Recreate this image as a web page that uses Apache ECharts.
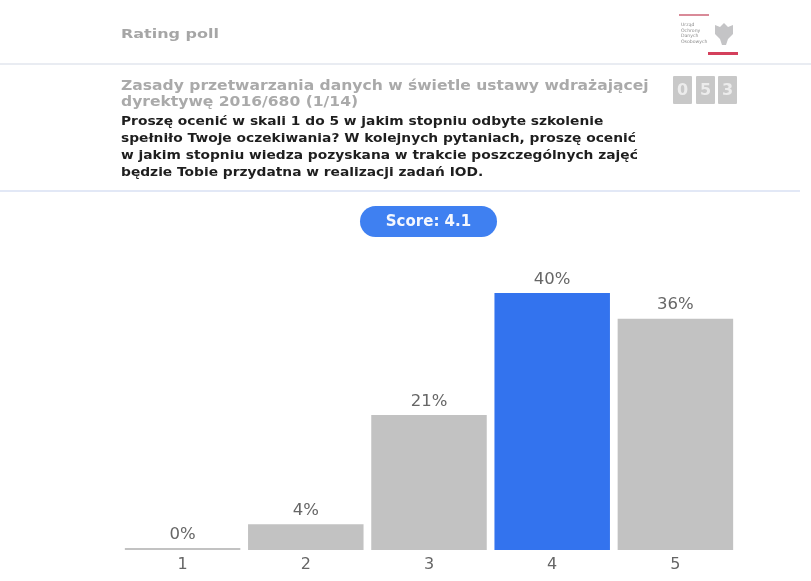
<!DOCTYPE html>
<html>
<head>
<meta charset="utf-8">
<style>html,body{margin:0;padding:0;background:#fff}#chart{width:811px;height:581px}</style>
<script src="https://cdn.jsdelivr.net/npm/echarts@6/dist/echarts.min.js"></script>
</head>
<body>
<div id="chart"></div>
<script>
// Poll results
const categories = ['1', '2', '3', '4', '5'];
const percentages = [0, 4, 21, 40, 36];
const topCategory = '4';

// Header copy
const pollLabel = 'Rating poll';
const topicLines = [
  'Zasady przetwarzania danych w świetle ustawy wdrażającej',
  'dyrektywę 2016/680 (1/14)'
];
const questionLines = [
  'Proszę ocenić w skali 1 do 5 w jakim stopniu odbyte szkolenie',
  'spełniło Twoje oczekiwania? W kolejnych pytaniach, proszę ocenić',
  'w jakim stopniu wiedza pozyskana w trakcie poszczególnych zajęć',
  'będzie Tobie przydatna w realizacji zadań IOD.'
];
const scoreLabel = 'Score: 4.1';
const counterDigits = ['0', '5', '3'];
const logoLines = ['Urząd', 'Ochrony', 'Danych', 'Osobowych'];

const FONT = '"DejaVu Sans", sans-serif';
const GREY_BAR = '#c2c2c2';
const BLUE_BAR = '#3373ee';

function label(x, y, text, size, color, weight, align, stretch) {
  return {
    type: 'text', x, y, silent: true, scaleX: stretch || 1,
    style: {
      text, fill: color, fontFamily: FONT, fontSize: size,
      fontWeight: weight || 'bold', align: align || 'left', verticalAlign: 'middle'
    }
  };
}
function box(x, y, width, height, fill, r) {
  return { type: 'rect', silent: true, shape: { x, y, width, height, r: r || 0 }, style: { fill } };
}

const header = [
  box(0, 63, 811, 2, '#e9ecf2'),
  box(0, 190, 800, 2, '#e2e8f6'),
  label(121, 34.5, pollLabel, 13, '#a6a6a6', 'bold', 'left', 1.23)
];
topicLines.forEach((t, i) => header.push(label(121, 87 + i * 16, t, 13.2, '#aaaaaa', 'bold', 'left', 1.18)));
questionLines.forEach((t, i) => header.push(label(121, 121.5 + i * 17, t, 11.6, '#1e1e1e', 'bold', 'left', 1.19)));

// Elapsed-time counter
[673, 696, 718].forEach((x, i) => {
  header.push(box(x, 76, 19, 28, '#c8c8c8', 1));
  header.push(label(x + 9.5, 91, counterDigits[i], 16, '#ececec', 'bold', 'center'));
});

// Office logo
header.push(box(679, 14, 30, 2, '#d98a98'));
header.push(box(708, 52, 30, 3, '#d4405c'));
logoLines.forEach((t, i) => header.push(label(681, 25 + i * 5.6, t, 4.6, '#8a8a8a', 'normal')));
header.push({
  type: 'polygon', silent: true,
  shape: { points: [[724, 23], [728, 27], [733, 25], [733, 34], [728, 39], [726, 45], [722, 45], [720, 39], [715, 34], [715, 25], [720, 27]] },
  style: { fill: '#c4c4c6' }
});

// Score pill
header.push(box(360, 206, 137, 31, '#3f80f1', 15.5));
header.push(label(428.5, 222.5, scoreLabel, 15, '#f4f7fe', 'bold', 'center'));

const chart = echarts.init(document.getElementById('chart'), null, { renderer: 'canvas' });
chart.setOption({
  animation: false,
  backgroundColor: '#ffffff',
  graphic: header,
  grid: { left: 121, width: 616, top: 293, bottom: 31 },
  xAxis: {
    type: 'category',
    data: categories,
    axisLine: { show: false },
    axisTick: { show: false },
    axisLabel: { color: '#666666', fontFamily: FONT, fontSize: 16, margin: 7 }
  },
  yAxis: { type: 'value', min: 0, max: 40, show: false },
  series: [{
    type: 'bar',
    barWidth: 115.5,
    barMinHeight: 2,
    data: percentages.map((v, i) => ({
      value: v,
      itemStyle: { color: categories[i] === topCategory ? BLUE_BAR : GREY_BAR }
    })),
    label: {
      show: true,
      position: 'top',
      distance: 5,
      formatter: '{c}%',
      color: '#666666',
      fontFamily: FONT,
      fontSize: 16.5
    }
  }]
});
</script>
</body>
</html>
